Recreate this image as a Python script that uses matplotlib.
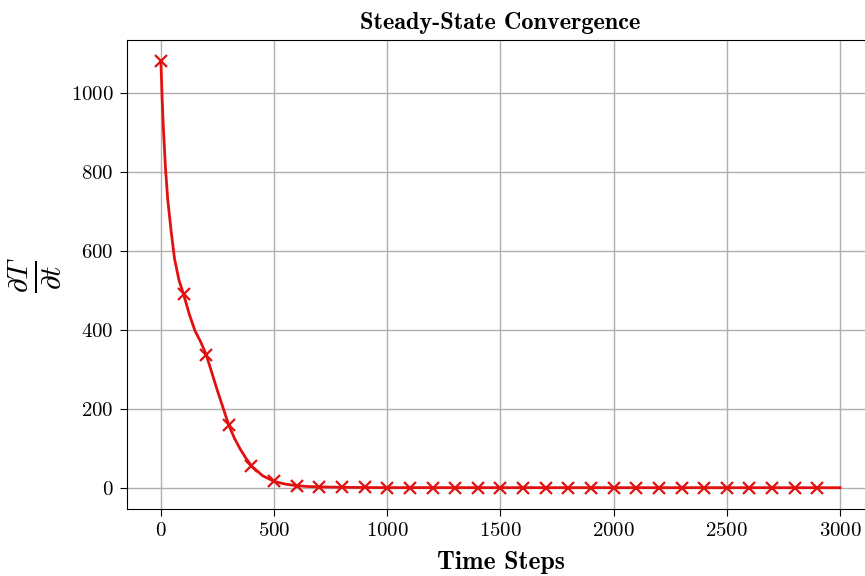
import matplotlib.pyplot as plt

plt.rcParams['font.family'] = 'serif'
plt.rcParams['font.serif'] = ['cmr10']
plt.rcParams['mathtext.fontset'] = 'cm'
plt.rcParams['axes.formatter.use_mathtext'] = True

# curve
line_steps = [0, 5, 10, 20, 30, 45, 60, 80, 100, 125, 150, 175, 200, 250, 300, 325, 350,
              375, 400, 450, 500, 550, 600, 650, 700, 800, 900, 1000, 3000]
line_values = [1080, 990, 920, 810, 730, 650, 580, 525, 490, 440, 398, 370, 337, 245, 158,
               125, 98, 75, 55, 30, 16, 9, 5, 3, 2, 1, 0.5, 0.2, 0]

# markers every 100 steps
marker_steps = list(range(0, 3000, 100))
marker_values = [1080, 490, 337, 158, 55, 16, 5, 2, 1, 0.5,
                 0.2, 0, 0, 0, 0, 0, 0, 0, 0, 0,
                 0, 0, 0, 0, 0, 0, 0, 0, 0, 0]

fig = plt.figure(figsize=(8.65, 5.76), dpi=100)
ax = fig.add_axes([0.1468, 0.1163, 0.8636, 0.8142])

ax.plot(line_steps, line_values, color='#e31010', linewidth=2, zorder=3)
ax.plot(marker_steps, marker_values, linestyle='none', marker='x', markersize=8,
        markeredgewidth=1.6, color='#e31010', zorder=4)

ax.grid(True, color='#b0b0b0', linewidth=1)
ax.set_axisbelow(True)
ax.set_xticks([0, 500, 1000, 1500, 2000, 2500, 3000])
ax.tick_params(labelsize=15, length=5, pad=4.5)

ax.set_title('Steady-State Convergence', fontfamily='cmb10', fontsize=17.5, pad=8)
ax.set_xlabel('Time Steps', fontfamily='cmb10', fontsize=18.5, labelpad=8)
ax.set_ylabel(r'$\frac{\partial T}{\partial t}$', fontsize=30, labelpad=6)

fig.savefig('out.png', dpi=100)
